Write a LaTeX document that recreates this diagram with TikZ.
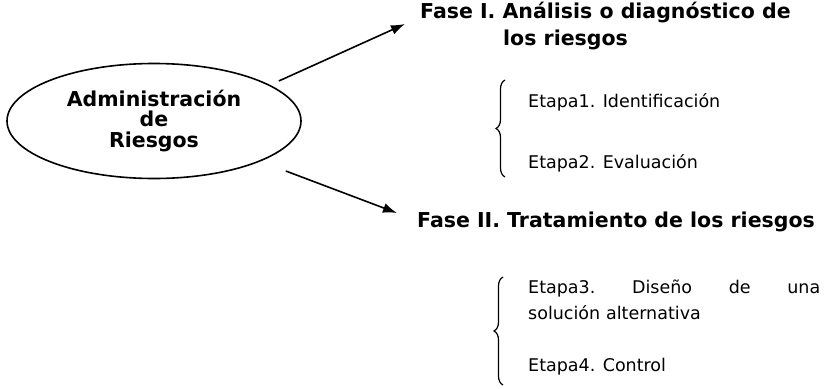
\documentclass[tikz,border=0pt]{standalone}
\usepackage{fontspec}
\setmainfont{DejaVu Sans}
\usetikzlibrary{shapes.geometric,arrows.meta,decorations.pathreplacing}

\tikzset{
  flecha/.style={line width=1.6pt, -{Latex[length=14pt,width=10pt]}},
  llave/.style={line width=1.2pt, decorate, decoration={brace, amplitude=9pt}},
  fase/.style={font=\fontsize{20.5}{27}\selectfont\bfseries, inner sep=0pt, align=left},
  etapa/.style={font=\fontsize{17.5}{26}\selectfont, inner sep=0pt}
}

\begin{document}
\begin{tikzpicture}[x=1pt, y=-1pt]
        \useasboundingbox (0,0) rectangle (832,388);
        \node [draw, ellipse, line width=1.6pt, minimum width=294pt, minimum height=115pt, inner sep=0pt, align=center,
               font=\fontsize{20.5}{20.5}\selectfont\bfseries] (admin) at (154,121) {Administración\\de\\Riesgos};
        \node [fase, anchor=west] (fase1) at (420,13) {Fase I. Análisis o diagnóstico de};
        \node [fase, anchor=west] (fase1b) at (503,40) {los riesgos};
        \node [fase, anchor=west] (fase2) at (417,222) {Fase II. Tratamiento de los riesgos};
        \draw [flecha] ([xshift=-23pt,yshift=40pt]admin.east) -- ([xshift=-15pt,yshift=-11pt]fase1.west);
        \draw [flecha] ([xshift=-16pt,yshift=-50pt]admin.east) -- ([xshift=-20pt,yshift=9pt]fase2.west);
        % etapas de la fase I
        \node [etapa, anchor=west] (etapa1) at (528,102) {Etapa1. Identificación};
        \node [etapa, anchor=west] (etapa2) at (528,163) {Etapa2. Evaluación};
        \draw [llave] (505,177) -- (505,80);
        % etapas de la fase II
        \node [etapa, anchor=north west, text width=292pt, align=left] (etapa3) at (528,280)
              {Etapa3.\hfill Diseño\hfill de\hfill una\\solución alternativa};
        \node [etapa, anchor=west] (etapa4) at (528,367) {Etapa4. Control};
        \draw [llave] (503,385) -- (503,277);
\end{tikzpicture}
\end{document}
